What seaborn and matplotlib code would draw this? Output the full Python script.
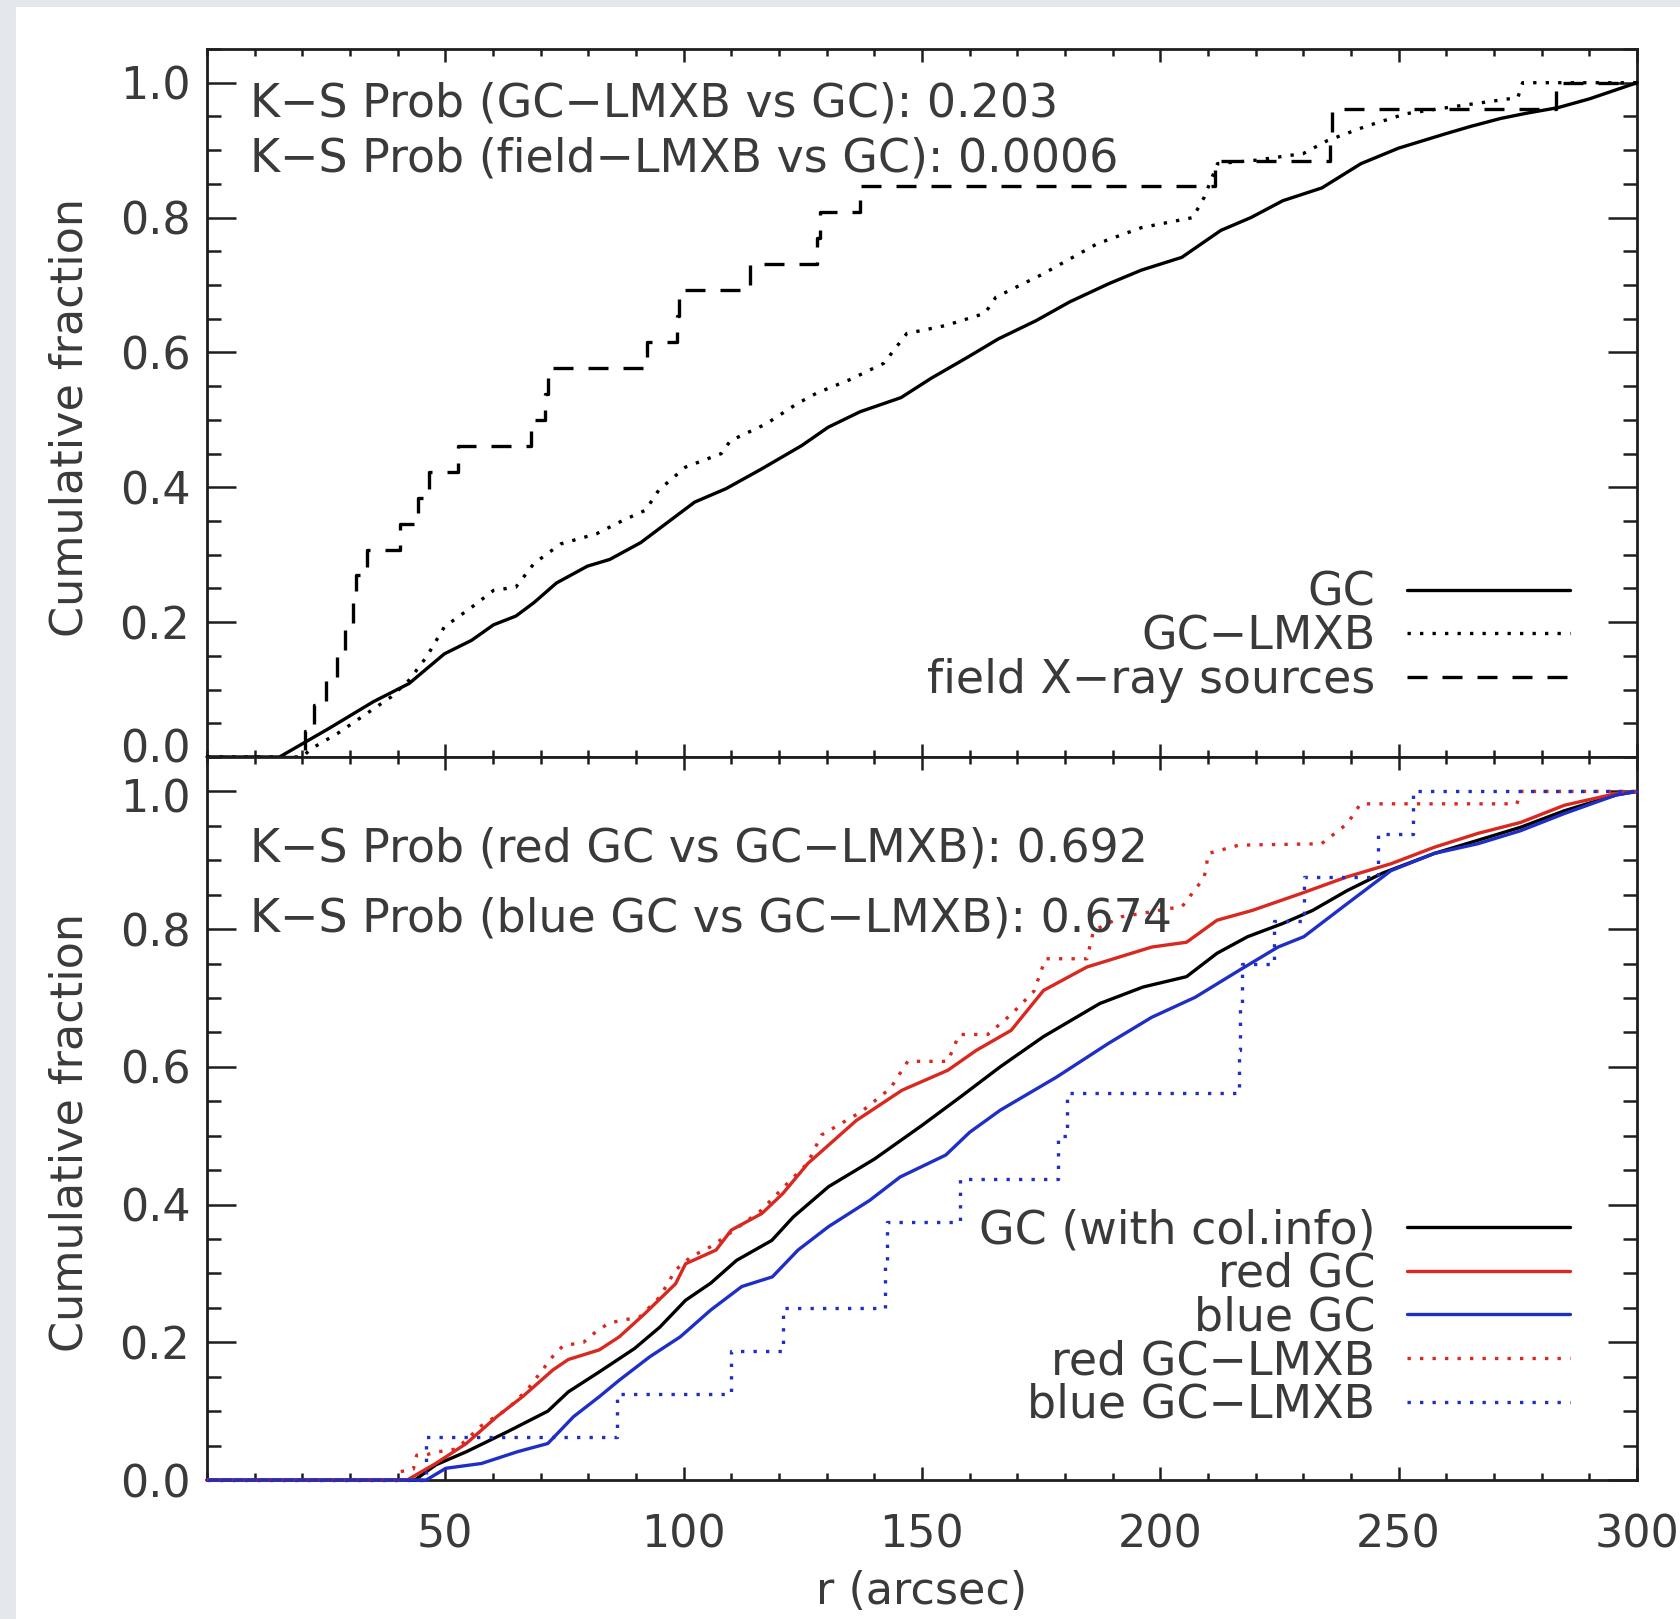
import numpy as np
import pandas as pd
import matplotlib
matplotlib.use("Agg")
import matplotlib.pyplot as plt
import matplotlib.transforms as mtransforms
from matplotlib.patches import Rectangle
from matplotlib.lines import Line2D
from matplotlib.ticker import MultipleLocator, FormatStrFormatter
import seaborn as sns

# ---------------- data ----------------
R_MAX = 300.0

# top panel: all GCs (smooth cumulative curve)
gc_r = [0, 15.2, 25.5, 34.9, 42.4, 49.8, 55.5, 60.1, 64.8, 68.6, 73.3, 79.8, 84.5, 91.0,
        95.7, 102.3, 108.9, 116.3, 124.8, 130.3, 137.0, 145.6, 152.0, 159.6, 166.0, 173.9,
        181.0, 189.2, 196.0, 204.5, 212.7, 219.0, 225.7, 233.9, 242.1, 250.0, 259.7, 265.0,
        271.4, 277.0, 283.4, 290.0, 295.0, 300.0]
gc_f = [0, 0, 0.042, 0.082, 0.109, 0.153, 0.173, 0.196, 0.209, 0.229, 0.258, 0.283, 0.293,
        0.318, 0.343, 0.378, 0.398, 0.427, 0.462, 0.489, 0.512, 0.533, 0.562, 0.593, 0.620,
        0.647, 0.675, 0.702, 0.722, 0.741, 0.781, 0.800, 0.825, 0.844, 0.880, 0.903, 0.924,
        0.935, 0.947, 0.955, 0.963, 0.976, 0.988, 1.0]

# top panel: GC-LMXB
gclmxb_r = [0, 20.0, 21.8, 27.4, 33.0, 38.6, 42.4, 46.1, 49.8, 55.5, 60.1, 64.8, 68.6, 74.2,
            81.7, 87.3, 92.0, 94.8, 100.4, 107.9, 109.8, 117.3, 123.8, 128.0, 135.0, 142.0,
            146.8, 155.0, 163.2, 165.5, 175.0, 186.7, 196.0, 206.8, 209.2, 212.0, 220.0,
            230.0, 235.0, 243.0, 251.5, 262.0, 275.0, 276.0, 300.0]
gclmxb_f = [0, 0, 0.012, 0.035, 0.062, 0.089, 0.114, 0.149, 0.193, 0.222, 0.247, 0.252, 0.287,
            0.316, 0.331, 0.351, 0.366, 0.396, 0.430, 0.450, 0.469, 0.494, 0.524, 0.540, 0.560,
            0.584, 0.628, 0.640, 0.658, 0.682, 0.715, 0.761, 0.785, 0.800, 0.830, 0.880, 0.885,
            0.895, 0.914, 0.935, 0.954, 0.965, 0.978, 1.0, 1.0]

# top panel: field X-ray sources (individual radii, arcsec)
field_radii = [20.6, 22.5, 25.0, 27.3, 29.0, 30.6, 31.3, 33.5, 40.5, 44.3, 46.6, 52.7, 68.0,
               71.0, 71.5, 92.3, 98.5, 99.0, 114.0, 128.0, 128.5, 137.0, 211.4, 235.6, 236.0,
               283.0]

# bottom panel: GC with colour info
gcc_r = [0, 43.6, 48.0, 54.4, 63.0, 71.5, 75.8, 82.3, 89.7, 95.0, 100.4, 105.7, 111.1, 118.5,
         123.0, 130.4, 140.0, 150.0, 158.0, 166.4, 175.5, 187.3, 196.4, 205.5, 211.9, 218.3,
         225.6, 231.9, 239.2, 246.5, 257.5, 266.6, 275.6, 284.8, 295.7, 300.0]
gcc_f = [0, 0, 0.022, 0.041, 0.070, 0.100, 0.128, 0.157, 0.191, 0.222, 0.261, 0.286, 0.319,
         0.348, 0.382, 0.426, 0.466, 0.515, 0.556, 0.600, 0.644, 0.692, 0.716, 0.731, 0.765,
         0.789, 0.808, 0.827, 0.856, 0.881, 0.910, 0.929, 0.948, 0.972, 0.995, 1.0]

# bottom panel: red GC
red_r = [0, 42.0, 48.0, 54.4, 60.8, 66.2, 72.6, 75.8, 82.3, 86.5, 91.9, 98.3, 100.4, 106.8,
         110.0, 116.4, 120.8, 126.1, 136.2, 145.8, 155.4, 161.4, 168.7, 175.5, 184.6, 198.2,
         205.5, 211.9, 219.2, 229.2, 239.2, 248.4, 257.5, 266.6, 275.6, 284.8, 295.7, 300.0]
red_f = [0, 0, 0.024, 0.053, 0.092, 0.121, 0.160, 0.175, 0.189, 0.208, 0.242, 0.285, 0.314,
         0.334, 0.363, 0.387, 0.416, 0.460, 0.522, 0.566, 0.595, 0.624, 0.653, 0.711, 0.745,
         0.774, 0.781, 0.813, 0.827, 0.851, 0.876, 0.895, 0.919, 0.939, 0.955, 0.980, 0.997,
         1.0]

# bottom panel: blue GC
blue_r = [0, 46.0, 50.1, 57.6, 65.1, 71.5, 76.9, 82.3, 86.5, 92.9, 99.3, 105.7, 112.2, 118.6,
          124.0, 130.4, 139.0, 145.4, 155.0, 160.0, 166.4, 178.2, 189.1, 198.2, 207.3, 216.5,
          224.7, 230.1, 239.2, 248.4, 257.5, 266.6, 275.6, 284.8, 295.7, 300.0]
blue_f = [0, 0, 0.017, 0.024, 0.041, 0.053, 0.092, 0.121, 0.145, 0.179, 0.208, 0.247, 0.281,
          0.295, 0.334, 0.368, 0.406, 0.440, 0.472, 0.505, 0.537, 0.585, 0.634, 0.672, 0.701,
          0.740, 0.774, 0.789, 0.837, 0.885, 0.910, 0.924, 0.943, 0.968, 0.995, 1.0]

# bottom panel: red GC-LMXB
red_lmxb_r = [0, 40.0, 40.5, 43.3, 44.0, 45.8, 47.6, 52.3, 57.6, 63.0, 67.3, 72.6, 74.7, 79.0,
              81.2, 84.3, 90.8, 95.0, 98.3, 101.5, 106.0, 110.0, 116.0, 121.8, 126.0, 128.9,
              137.3, 143.4, 147.0, 155.4, 157.8, 163.8, 168.7, 173.5, 175.9, 184.6, 186.0,
              191.9, 204.6, 209.2, 210.1, 216.5, 233.8, 239.2, 242.0, 274.8, 275.6, 300.0]
red_lmxb_f = [0, 0, 0.012, 0.016, 0.036, 0.036, 0.040, 0.045, 0.079, 0.103, 0.132, 0.180,
              0.195, 0.200, 0.213, 0.228, 0.237, 0.266, 0.305, 0.324, 0.340, 0.360, 0.390,
              0.431, 0.460, 0.501, 0.535, 0.569, 0.608, 0.608, 0.647, 0.647, 0.676, 0.710,
              0.757, 0.757, 0.798, 0.818, 0.833, 0.875, 0.910, 0.922, 0.924, 0.953, 0.982,
              0.982, 1.0, 1.0]

# bottom panel: blue GC-LMXB (individual radii, arcsec)
blue_lmxb_radii = [46.0, 86.0, 110.0, 120.8, 142.2, 142.6, 158.0, 178.5, 180.5, 216.5, 216.8,
                   217.2, 223.8, 230.1, 245.6, 253.0]

x_ticks = [50, 100, 150, 200, 250, 300]
y_ticks = [0.0, 0.2, 0.4, 0.6, 0.8, 1.0]

top_notes = ["K\u2212S Prob (GC\u2212LMXB vs GC): 0.203",
             "K\u2212S Prob (field\u2212LMXB vs GC): 0.0006"]
bot_notes = ["K\u2212S Prob (red GC vs GC\u2212LMXB): 0.692",
             "K\u2212S Prob (blue GC vs GC\u2212LMXB): 0.674"]
top_labels = ["GC", "GC\u2212LMXB", "field X\u2212ray sources"]
bot_labels = ["GC (with col.info)", "red GC", "blue GC", "red GC\u2212LMXB", "blue GC\u2212LMXB"]


def ecdf_table(radii, rmax):
    """Empirical cumulative fraction of a list of radii, as a step table."""
    radii = np.sort(np.asarray(radii, dtype=float))
    n = len(radii)
    x = np.concatenate([[0.0], radii, [rmax]])
    y = np.concatenate([[0.0], np.arange(1, n + 1) / n, [1.0]])
    return pd.DataFrame({"r": x, "f": y})


# ---------------- style ----------------
sns.set_style("ticks")
plt.rcParams["font.family"] = ["DejaVu Sans"]

W, H, DPI = 1681, 1619, 100
INK = "#1e1e1e"
TXT = "#3a3a3a"
RED = "#d8281f"
BLUE = "#1f2fc6"
FS = 32      # tick labels / axis labels
FS_T = 33    # annotations and legend
LW = 2.4
DOT = (0, (1.0, 2.75))
DASH = (0, (6.0, 4.5))

fig = plt.figure(figsize=(W / DPI, H / DPI), dpi=DPI, facecolor="#e4e7eb")
fig.add_artist(Rectangle((16 / W, 0), 1 - 16 / W, 1 - 7 / H, transform=fig.transFigure,
                         facecolor="white", edgecolor="none", zorder=-10))

ax_top = fig.add_axes([207 / W, (H - 757) / H, 1430 / W, 708 / H])
ax_bot = fig.add_axes([207 / W, (H - 1480) / H, 1430 / W, 723 / H])


def style(ax, show_xlabels):
    ax.set_xlim(0, R_MAX)
    ax.set_ylim(0, 1.05)
    ax.set_xticks(x_ticks)
    ax.xaxis.set_minor_locator(MultipleLocator(10))
    ax.set_yticks(y_ticks)
    ax.yaxis.set_minor_locator(MultipleLocator(0.05))
    ax.yaxis.set_major_formatter(FormatStrFormatter("%.1f"))
    ax.tick_params(which="both", direction="in", top=True, right=True, bottom=True,
                   left=True, color=INK, width=1.8)
    ax.tick_params(axis="y", which="major", length=20.6)
    ax.tick_params(axis="y", which="minor", length=10.3)
    ax.tick_params(axis="x", which="major", length=9.4)
    ax.tick_params(axis="x", which="minor", length=4.7)
    ax.tick_params(axis="y", labelsize=FS, pad=12, labelcolor=TXT)
    ax.tick_params(axis="x", labelsize=FS, pad=24, labelcolor=TXT, labelbottom=show_xlabels)
    for s in ax.spines.values():
        s.set_linewidth(2.0)
        s.set_color(INK)
    ax.grid(False)
    ax.set_facecolor("white")


def draw(ax, df, color, ls, step=False):
    kw = dict(drawstyle="steps-post") if step else {}
    sns.lineplot(data=df, x="r", y="f", ax=ax, color=color, linewidth=LW, estimator=None,
                 sort=False, legend=False, **kw)
    line = ax.lines[-1]
    line.set_linestyle(ls)
    line.set_clip_on(False)
    line.set_zorder(3)
    return line


style(ax_top, False)
style(ax_bot, True)

# ---- top panel ----
draw(ax_top, pd.DataFrame({"r": gc_r, "f": gc_f}), "black", "-")
draw(ax_top, pd.DataFrame({"r": gclmxb_r, "f": gclmxb_f}), "black", DOT)
draw(ax_top, ecdf_table(field_radii, R_MAX), "black", DASH, step=True)

# ---- bottom panel ----
draw(ax_bot, pd.DataFrame({"r": gcc_r, "f": gcc_f}), "black", "-")
draw(ax_bot, pd.DataFrame({"r": red_r, "f": red_f}), RED, "-")
draw(ax_bot, pd.DataFrame({"r": blue_r, "f": blue_f}), BLUE, "-")
draw(ax_bot, pd.DataFrame({"r": red_lmxb_r, "f": red_lmxb_f}), RED, DOT)
draw(ax_bot, ecdf_table(blue_lmxb_radii, R_MAX), BLUE, DOT, step=True)

# ---- annotations ----
for txt, y in zip(top_notes, [0.904, 0.8263]):
    ax_top.text(0.030, y, txt, transform=ax_top.transAxes, ha="left", va="baseline",
                fontsize=FS_T, color=TXT)
for txt, y in zip(bot_notes, [0.8548, 0.758]):
    ax_bot.text(0.030, y, txt, transform=ax_bot.transAxes, ha="left", va="baseline",
                fontsize=FS_T, color=TXT)

leg_kw = dict(loc="center right", frameon=False, markerfirst=False, fontsize=FS_T,
              handlelength=3.55, handletextpad=0.70, labelspacing=-0.03, borderpad=0,
              borderaxespad=0)
lt = ax_top.legend([Line2D([], [], color="black", lw=LW),
                    Line2D([], [], color="black", lw=LW, ls=DOT),
                    Line2D([], [], color="black", lw=LW, ls=DASH)], top_labels,
                   bbox_to_anchor=(0.9531, 0.1695), bbox_transform=ax_top.transAxes, **leg_kw)
lb = ax_bot.legend([Line2D([], [], color="black", lw=LW),
                    Line2D([], [], color=RED, lw=LW),
                    Line2D([], [], color=BLUE, lw=LW),
                    Line2D([], [], color=RED, lw=LW, ls=DOT),
                    Line2D([], [], color=BLUE, lw=LW, ls=DOT)], bot_labels,
                   bbox_to_anchor=(0.9531, 0.2241), bbox_transform=ax_bot.transAxes, **leg_kw)
for leg in (lt, lb):
    for t in leg.get_texts():
        t.set_color(TXT)

# ---- axis labels ----
for ax in (ax_top, ax_bot):
    ax.set_ylabel("Cumulative fraction", fontsize=FS, color=TXT)
    ax.yaxis.set_label_coords(-0.081, 0.48)
ax_top.set_xlabel("")
ax_bot.set_xlabel("r (arcsec)", fontsize=FS, color=TXT)
ax_bot.xaxis.set_label_coords(0.5, -0.124)

# nudge the two touching tick labels at the panel junction apart
fig.canvas.draw()
for ax, val, dy in [(ax_top, 0.0, 12), (ax_bot, 1.0, -4)]:
    for tick in ax.yaxis.get_major_ticks():
        if abs(tick.get_loc() - val) < 1e-9:
            tick.label1.set_transform(tick.label1.get_transform() +
                                      mtransforms.ScaledTranslation(0, dy / DPI,
                                                                    fig.dpi_scale_trans))

fig.savefig("out.png", dpi=DPI, facecolor=fig.get_facecolor())
